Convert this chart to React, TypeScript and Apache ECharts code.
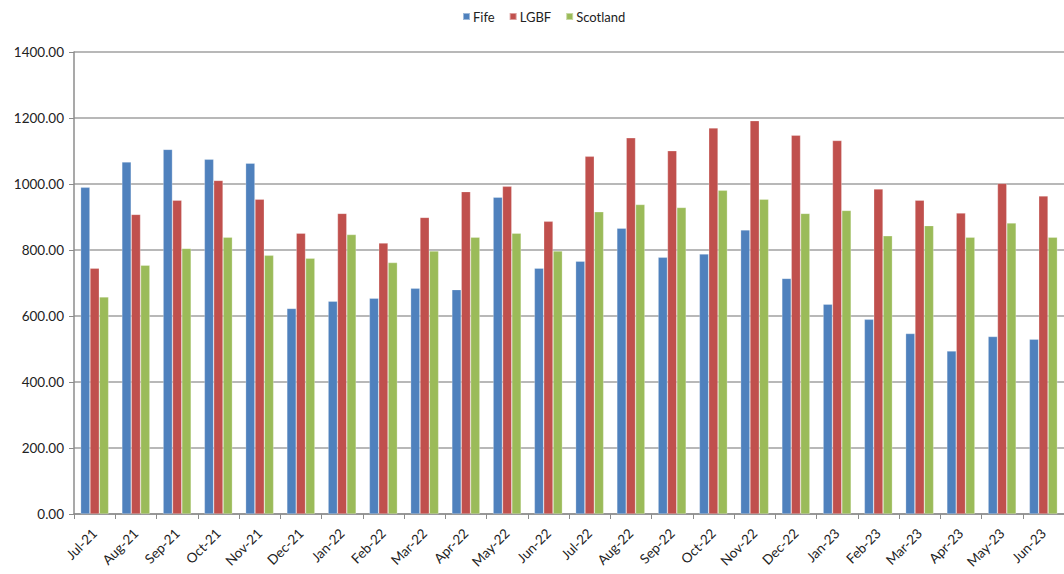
import React, { useEffect, useRef } from "react";
import * as echarts from "echarts";

const categories = [
  "Jul-21", "Aug-21", "Sep-21", "Oct-21", "Nov-21", "Dec-21", "Jan-22", "Feb-22",
  "Mar-22", "Apr-22", "May-22", "Jun-22", "Jul-22", "Aug-22", "Sep-22", "Oct-22",
  "Nov-22", "Dec-22", "Jan-23", "Feb-23", "Mar-23", "Apr-23", "May-23", "Jun-23",
];

const fife = [
  990, 1067, 1105, 1075, 1063, 623, 645, 654, 684, 680, 960, 745, 766, 866,
  778, 788, 861, 714, 636, 590, 547, 494, 538, 530,
];

const lgbf = [
  745, 908, 951, 1011, 954, 851, 911, 821, 899, 977, 993, 887, 1084, 1140,
  1101, 1170, 1192, 1148, 1132, 985, 951, 912, 1002, 964,
];

const scotland = [
  658, 754, 805, 839, 784, 775, 847, 762, 797, 839, 851, 797, 916, 938,
  929, 981, 954, 911, 920, 843, 874, 839, 882, 839,
];

const FONT = "Lato, 'Noto Sans', sans-serif";

export default function App() {
  const ref = useRef<HTMLDivElement>(null);

  useEffect(() => {
    if (!ref.current) return;
    const chart = echarts.init(ref.current, null, { renderer: "svg" });
    const mk = (name: string, data: number[], color: string) => ({
      name,
      type: "bar",
      data,
      barGap: "0%",
      barCategoryGap: "32%",
      itemStyle: { color, borderColor: "rgba(255,255,255,0.45)", borderWidth: 0.6 },
    });
    chart.setOption({
      animation: false,
      textStyle: { fontFamily: FONT },
      legend: {
        top: 5,
        left: 457,
        itemWidth: 7,
        itemHeight: 7,
        itemGap: 14,
        icon: "rect",
        textStyle: { fontFamily: FONT, fontSize: 13, color: "#222", padding: [0, 0, 0, -2] },
        data: ["Fife", "LGBF", "Scotland"],
      },
      grid: { left: 74, right: -8, top: 52, bottom: 60, containLabel: false },
      xAxis: {
        type: "category",
        data: categories,
        axisLine: { lineStyle: { color: "#8c8c8c", width: 1.5 } },
        axisTick: { show: true, length: 5, lineStyle: { color: "#8c8c8c" } },
        axisLabel: {
          rotate: 45,
          interval: 0,
          fontFamily: FONT,
          fontSize: 13.5,
          color: "#222",
          margin: 17,
        },
      },
      yAxis: {
        type: "value",
        min: 0,
        max: 1400,
        interval: 200,
        axisLine: { show: true, lineStyle: { color: "#8c8c8c", width: 1.5 } },
        axisTick: { show: true, length: 5, lineStyle: { color: "#8c8c8c" } },
        splitLine: { lineStyle: { color: "#a0a0a0", width: 1.5 } },
        axisLabel: {
          fontFamily: FONT,
          fontSize: 13.5,
          color: "#222",
          margin: 10,
          formatter: (v: number) => v.toFixed(2),
        },
      },
      series: [
        mk("Fife", fife, "#4F81BD"),
        mk("LGBF", lgbf, "#C0504D"),
        mk("Scotland", scotland, "#9BBB59"),
      ],
    });
    return () => chart.dispose();
  }, []);

  return (
    <div
      ref={ref}
      style={{ position: "fixed", left: 0, top: 0, width: 1064, height: 574, overflow: "hidden", background: "#fff" }}
    />
  );
}
